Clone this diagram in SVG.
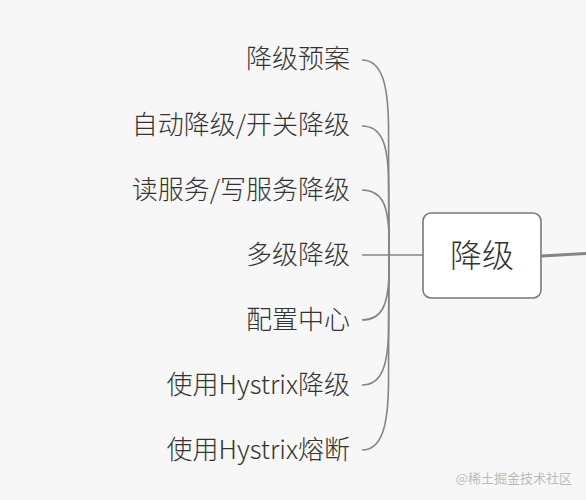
<svg xmlns="http://www.w3.org/2000/svg" width="586" height="500" viewBox="0 0 586 500">
<style>
.lbl{font-family:"Noto Sans CJK SC","Noto Sans",sans-serif;font-size:26px;font-weight:300;fill:#333;text-anchor:end}
.c{fill:none;stroke:#858585;stroke-width:1.6}
</style>
<rect width="586" height="500" fill="#f7f7f7"/>
<g id="connectors">
<path class="c" d="M362,60 C382,60 388,85 388.5,125 L389,255"/>
<path class="c" d="M362,126 C382,126 388,145 388.5,180 L389,255"/>
<path class="c" d="M362,190 C382,190 388,205 389,235 L389,255"/>
<path class="c" d="M362,255 L423,255"/>
<path class="c" d="M362,320 C382,320 388,305 389,275 L389,255"/>
<path class="c" d="M362,385 C382,385 388,365 388.5,330 L389,255"/>
<path class="c" d="M362,450 C382,450 388,425 388.5,385 L389,255"/>
<path d="M541,256 L586,253.5" fill="none" stroke="#858585" stroke-width="3"/>
</g>
<g id="root">
<rect x="423" y="213" width="118" height="85" rx="8" fill="#fff" stroke="#7a7a7a" stroke-width="1.6"/>
<text x="482" y="267" font-family="Noto Sans CJK SC,sans-serif" font-size="32" font-weight="300" fill="#333" text-anchor="middle">降级</text>
</g>
<g id="n1"><text class="lbl" x="350" y="68">降级预案</text></g>
<g id="n2"><text class="lbl" x="350" y="134">自动降级/开关降级</text></g>
<g id="n3"><text class="lbl" x="350" y="199">读服务/写服务降级</text></g>
<g id="n4"><text class="lbl" x="350" y="264">多级降级</text></g>
<g id="n5"><text class="lbl" x="350" y="329">配置中心</text></g>
<g id="n6"><text class="lbl" x="350" y="394">使用Hystrix降级</text></g>
<g id="n7"><text class="lbl" x="350" y="459">使用Hystrix熔断</text></g>
<text x="572" y="483" font-family="Noto Sans CJK SC,sans-serif" font-size="13" fill="#bbb" text-anchor="end">@稀土掘金技术社区</text>
</svg>
